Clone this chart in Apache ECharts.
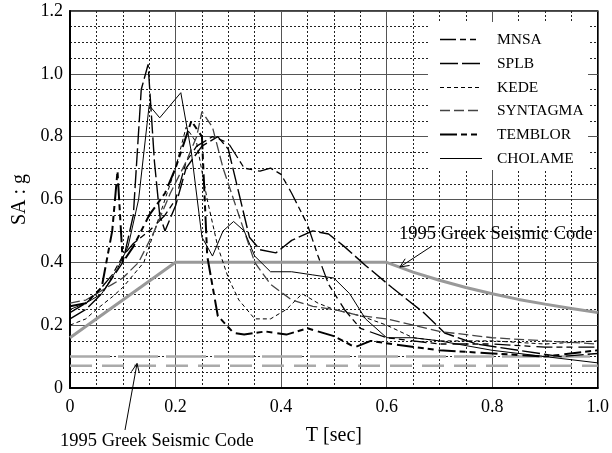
<!DOCTYPE html>
<html><head><meta charset="utf-8">
<script src="https://cdn.jsdelivr.net/npm/echarts@6/dist/echarts.min.js"></script>
<style>html,body{margin:0;padding:0;background:#fff}#c{width:612px;height:453px}</style>
</head><body><div id="c"></div>
<script>
const xTicks = ['0','0.2','0.4','0.6','0.8','1.0'];
const yTicks = ['0','0.2','0.4','0.6','0.8','1.0','1.2'];
const names = ['MNSA','SPLB','KEDE','SYNTAGMA','TEMBLOR','CHOLAME'];

const mnsa = [[0,0.24],[0.03,0.27],[0.05,0.3],[0.08,0.36],[0.1,0.42],[0.12,0.46],[0.15,0.5],[0.18,0.55],[0.2,0.6],[0.22,0.72],[0.24,0.77],[0.27,0.8],[0.3,0.78],[0.33,0.7],[0.36,0.69],[0.38,0.7],[0.4,0.68],[0.42,0.62],[0.45,0.52],[0.47,0.42],[0.49,0.33],[0.52,0.25],[0.55,0.19],[0.6,0.16],[0.65,0.15],[0.7,0.14],[0.8,0.14],[0.9,0.13],[1.0,0.13]];
const splb = [[0,0.22],[0.03,0.25],[0.06,0.3],[0.08,0.35],[0.1,0.4],[0.12,0.55],[0.135,0.95],[0.148,1.03],[0.16,0.72],[0.17,0.55],[0.18,0.5],[0.2,0.58],[0.22,0.7],[0.25,0.77],[0.28,0.8],[0.3,0.76],[0.32,0.62],[0.34,0.48],[0.36,0.44],[0.39,0.43],[0.42,0.47],[0.46,0.5],[0.49,0.49],[0.52,0.45],[0.56,0.39],[0.61,0.32],[0.67,0.24],[0.71,0.175],[0.77,0.14],[0.85,0.12],[0.93,0.1],[1.0,0.11]];
const kede = [[0,0.2],[0.03,0.22],[0.05,0.25],[0.08,0.29],[0.1,0.32],[0.12,0.36],[0.14,0.4],[0.17,0.55],[0.2,0.7],[0.22,0.83],[0.24,0.78],[0.26,0.6],[0.28,0.45],[0.3,0.35],[0.32,0.28],[0.35,0.22],[0.38,0.22],[0.41,0.25],[0.44,0.3],[0.47,0.27],[0.5,0.25],[0.55,0.23],[0.6,0.2],[0.65,0.16],[0.7,0.15],[0.8,0.15],[0.9,0.14],[1.0,0.15]];
const syntagma = [[0,0.27],[0.03,0.28],[0.05,0.3],[0.08,0.33],[0.1,0.35],[0.13,0.4],[0.16,0.5],[0.19,0.62],[0.22,0.72],[0.24,0.8],[0.25,0.88],[0.27,0.83],[0.29,0.7],[0.31,0.6],[0.33,0.5],[0.35,0.4],[0.38,0.33],[0.42,0.28],[0.46,0.26],[0.5,0.25],[0.55,0.23],[0.6,0.22],[0.7,0.18],[0.8,0.16],[0.9,0.15],[1.0,0.14]];
const temblor = [[0,0.26],[0.03,0.27],[0.06,0.32],[0.08,0.5],[0.09,0.69],[0.1,0.4],[0.12,0.45],[0.15,0.55],[0.18,0.62],[0.2,0.7],[0.23,0.85],[0.25,0.8],[0.26,0.42],[0.28,0.23],[0.31,0.175],[0.33,0.17],[0.37,0.18],[0.41,0.17],[0.45,0.19],[0.5,0.165],[0.54,0.13],[0.57,0.15],[0.61,0.14],[0.7,0.12],[0.8,0.11],[0.9,0.1],[1.0,0.12]];
const cholame = [[0,0.25],[0.03,0.27],[0.06,0.3],[0.09,0.38],[0.11,0.45],[0.13,0.6],[0.14,0.75],[0.15,0.9],[0.17,0.86],[0.19,0.9],[0.21,0.94],[0.23,0.75],[0.25,0.48],[0.27,0.42],[0.29,0.5],[0.31,0.53],[0.33,0.5],[0.35,0.42],[0.38,0.37],[0.42,0.37],[0.46,0.36],[0.5,0.35],[0.53,0.3],[0.56,0.22],[0.6,0.16],[0.65,0.16],[0.7,0.15],[0.8,0.12],[0.9,0.1],[1.0,0.08]];
const codeSpectrum = [[0,0.16],[0.2,0.4],[0.6,0.4],[0.65,0.369],[0.7,0.343],[0.75,0.32],[0.8,0.3],[0.85,0.282],[0.9,0.267],[0.95,0.253],[1.0,0.24]];
const codeLow1 = [[0,0.1],[1.0,0.1]];
const codeLow2 = [[0,0.071],[1.0,0.071]];

const FONT = 'Liberation Serif';
const styles = [
  {type:[16,4,6,4,6,6], width:1.3, color:'#000'},
  {type:[18,4], width:1.4, color:'#000'},
  {type:[4,3], width:1, color:'#000'},
  {type:[10,4], width:1.3, color:'#444'},
  {type:[17,4,6,4,6,5], width:2, color:'#000'},
  {type:'solid', width:1, color:'#000'}
];
const datas = [mnsa, splb, kede, syntagma, temblor, cholame];

const chart = echarts.init(document.getElementById('c'), null, {renderer:'canvas'});
const series = datas.map((d,i)=>({
  name: names[i], type:'line', data:d, symbol:'none', smooth:false,
  lineStyle:{type:styles[i].type, width:styles[i].width, color:styles[i].color},
  itemStyle:{color:styles[i].color}, z:3
}));
series.push({type:'line', data:codeSpectrum, symbol:'none', lineStyle:{color:'#999', width:3}, z:2, silent:true});
series.push({type:'line', data:codeLow1, symbol:'none', lineStyle:{color:'#aaa', width:2.5, type:[40,8]}, z:2, silent:true});
series.push({type:'line', data:codeLow2, symbol:'none', lineStyle:{color:'#aaa', width:2.5, type:[22,10]}, z:2, silent:true});

chart.setOption({
  animation:false,
  grid:{left:70, right:12, top:11, bottom:65, show:true, borderColor:'#000', borderWidth:1.5},
  xAxis:{type:'value', min:0, max:1, interval:0.2,
    name:'T [sec]', nameLocation:'middle', nameGap:38,
    nameTextStyle:{fontFamily:FONT, fontSize:20, color:'#000'},
    axisLine:{show:true, lineStyle:{color:'#000', width:2}}, axisTick:{show:false},
    axisLabel:{fontFamily:FONT, fontSize:18, color:'#000', margin:10, formatter:(v)=>xTicks[Math.round(v/0.2)]},
    splitLine:{show:true, lineStyle:{color:'#555', width:1}},
    minorTick:{show:false, splitNumber:4},
    minorSplitLine:{show:true, lineStyle:{color:'#222', width:1, type:[2,2]}}
  },
  yAxis:{type:'value', min:0, max:1.2, interval:0.2,
    name:'SA : g', nameLocation:'middle', nameGap:40, nameRotate:90,
    nameTextStyle:{fontFamily:FONT, fontSize:20, color:'#000'},
    axisLine:{show:true, lineStyle:{color:'#000', width:2}}, axisTick:{show:false},
    axisLabel:{fontFamily:FONT, fontSize:18, color:'#000', margin:7, formatter:(v)=>yTicks[Math.round(v/0.2)]},
    splitLine:{show:true, lineStyle:{color:'#555', width:1}},
    minorTick:{show:false, splitNumber:4},
    minorSplitLine:{show:true, lineStyle:{color:'#222', width:1, type:[2,2]}}
  },
  series: series
});

function arrow(from, to){
  const dx = to[0]-from[0], dy = to[1]-from[1];
  const L = Math.hypot(dx,dy), ux = dx/L, uy = dy/L;
  const h = 9, w = 4;
  const bx = to[0]-ux*h, by = to[1]-uy*h;
  return [
    {type:'line', shape:{x1:from[0], y1:from[1], x2:to[0], y2:to[1]}, style:{stroke:'#000', lineWidth:1}, z:10},
    {type:'polyline', shape:{points:[[bx-uy*w, by+ux*w], to, [bx+uy*w, by-ux*w]]}, style:{stroke:'#000', lineWidth:1, fill:null}, z:10}
  ];
}
const legendEls = [{type:'rect', shape:{x:428, y:22, width:160, height:148}, style:{fill:'#fff'}, z:9}];
names.forEach((n,i)=>{
  const y = Math.round(39 + i*23.8) + 0.5;
  const st = styles[i];
  legendEls.push({type:'line', shape:{x1:440, y1:y, x2:482, y2:y},
    style:{stroke:st.color, lineWidth:st.width, lineDash: st.type==='solid'?null:st.type}, z:10});
  legendEls.push({type:'text', x:497, y:y, style:{text:n, font:'15.5px "Liberation Serif"', fill:'#000', textVerticalAlign:'middle'}, z:10});
});
const tip1 = chart.convertToPixel({gridIndex:0}, [0.625, 0.385]);
const tip2 = chart.convertToPixel({gridIndex:0}, [0.127, 0.078]);
chart.setOption({graphic: [
  ...legendEls,
  {type:'text', left:399, top:225, style:{text:'1995 Greek Seismic Code', font:'18.5px "Liberation Serif"', fill:'#000'}, z:10},
  ...arrow([432,246], tip1),
  {type:'text', left:60, top:432, style:{text:'1995 Greek Seismic Code', font:'18.5px "Liberation Serif"', fill:'#000'}, z:10},
  ...arrow([125,430], tip2)
]});
</script></body></html>
